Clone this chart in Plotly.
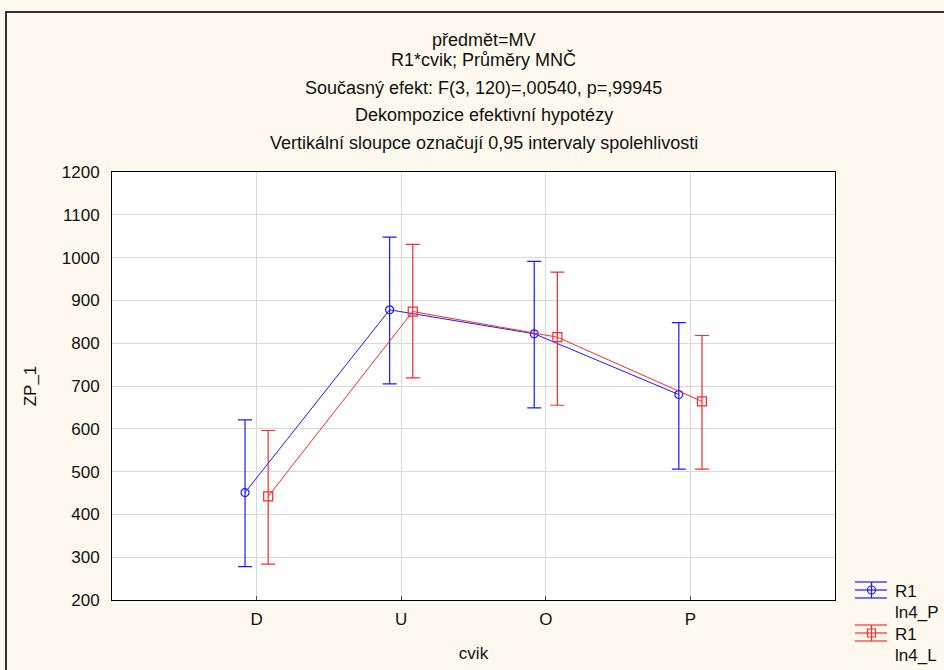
import plotly.graph_objects as go

categories = ["D", "U", "O", "P"]
blue_label = ["R1", "ln4_P"]
red_label = ["R1", "ln4_L"]
blue_mean = [451, 878, 822, 680]
blue_upper = [621, 1048, 991, 848]
blue_lower = [278, 705, 649, 506]
red_mean = [442, 874, 814, 664]
red_upper = [596, 1031, 966, 818]
red_lower = [284, 719, 655, 506]
y_ticks = [200, 300, 400, 500, 600, 700, 800, 900, 1000, 1100, 1200]

titles = [
    "předmět=MV",
    "R1*cvik; Průměry MNČ",
    "Současný efekt: F(3, 120)=,00540, p=,99945",
    "Dekompozice efektivní hypotézy",
    "Vertikální sloupce označují 0,95 intervaly spolehlivosti",
]
title_y_px = [40, 60, 88, 115, 143]

BLUE = "#1a1aff"
RED = "#ff2a2a"
FONT = "Liberation Sans, Arial, sans-serif"

xi = list(range(len(categories)))
off = 0.08

fig = go.Figure()
for name, mean, up, lo, col, sym, sign, msize in [
    ("R1 ln4_P", blue_mean, blue_upper, blue_lower, BLUE, "circle-open", -1, 8),
    ("R1 ln4_L", red_mean, red_upper, red_lower, RED, "square-open", 1, 9),
]:
    fig.add_trace(go.Scatter(
        x=[i + sign * off for i in xi],
        y=mean,
        name=name,
        mode="lines+markers",
        line=dict(color=col, width=1),
        marker=dict(symbol=sym, size=msize, color=col, line=dict(width=1.2, color=col)),
        error_y=dict(
            type="data", symmetric=False,
            array=[u - m for u, m in zip(up, mean)],
            arrayminus=[m - l for m, l in zip(mean, lo)],
            color=col, thickness=1.2, width=7,
        ),
        showlegend=False,
    ))

W, H = 944, 670
L, R, T, B = 112, 109, 172, 70
pw, ph = W - L - R, H - T - B


def px(x):
    return (x - L) / pw


def py(y):
    return (H - B - y) / ph


annotations = []
for t, ypx in zip(titles, title_y_px):
    annotations.append(dict(
        text=t, xref="paper", yref="paper",
        x=px(484), y=py(ypx),
        showarrow=False, xanchor="center", yanchor="middle",
        font=dict(family=FONT, size=18, color="#111"),
    ))

shapes = [dict(
    type="rect", xref="paper", yref="paper",
    x0=px(6), x1=px(960), y0=py(690), y1=py(12),
    line=dict(color="#333", width=2), layer="below",
)]

# manual legend (error-bar style symbols)
for labels, col, cy, kind in [(blue_label, BLUE, 590, "circle"), (red_label, RED, 633, "rect")]:
    for dy in (-8, 0, 8):
        shapes.append(dict(type="line", xref="paper", yref="paper",
                           x0=px(855), x1=px(887), y0=py(cy + dy), y1=py(cy + dy),
                           line=dict(color=col, width=1.2)))
    shapes.append(dict(type="line", xref="paper", yref="paper",
                       x0=px(871.5), x1=px(871.5), y0=py(cy - 8), y1=py(cy + 8),
                       line=dict(color=col, width=1.2)))
    shapes.append(dict(type=kind, xref="paper", yref="paper",
                       x0=px(867.5), x1=px(875.5), y0=py(cy - 4), y1=py(cy + 4),
                       line=dict(color=col, width=1.2), fillcolor="rgba(0,0,0,0)"))
    for k, lab in enumerate(labels):
        annotations.append(dict(
            text=lab, xref="paper", yref="paper",
            x=px(893), y=py(cy + 1 + 21.5 * k),
            showarrow=False, xanchor="left", yanchor="middle",
            font=dict(family=FONT, size=17, color="#111"),
        ))

fig.update_layout(
    width=W, height=H,
    margin=dict(l=L, r=R, t=T, b=B, autoexpand=False),
    paper_bgcolor="#fdf9ee",
    plot_bgcolor="white",
    font=dict(family=FONT, size=17, color="#111"),
    showlegend=False,
    annotations=annotations,
    shapes=shapes,
)

fig.update_xaxes(
    range=[-1, 4], automargin=False,
    tickmode="array", tickvals=xi, ticktext=categories,
    showgrid=True, gridcolor="#d9d9d9", gridwidth=1,
    showline=True, linecolor="black", linewidth=1, mirror=True,
    ticks="inside", ticklen=4, tickcolor="#555", ticklabelstandoff=4,
    title=dict(text="cvik", font=dict(family=FONT, size=17), standoff=18),
    zeroline=False,
)
fig.update_yaxes(
    range=[200, 1200], automargin=False,
    tickmode="array", tickvals=y_ticks,
    showgrid=True, gridcolor="#d9d9d9", gridwidth=1,
    showline=True, linecolor="black", linewidth=1, mirror=True,
    ticks="", ticklabelstandoff=8,
    title=dict(text="ZP_1", font=dict(family=FONT, size=17), standoff=20),
    zeroline=False,
)

fig.write_html("out.html")
